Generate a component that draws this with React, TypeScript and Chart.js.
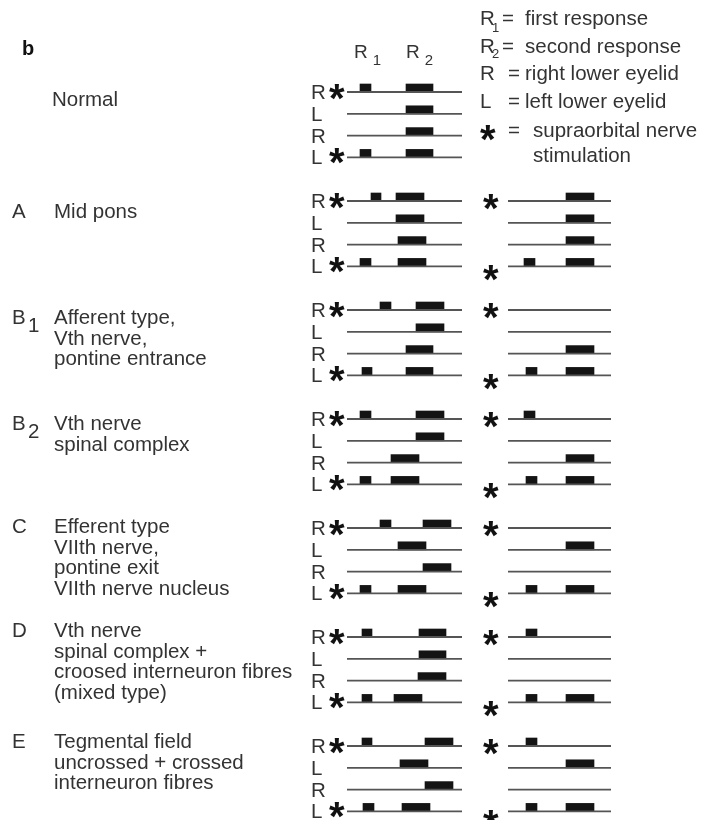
import React, { useEffect, useRef } from "react";
import { Chart, registerables } from "chart.js";

Chart.register(...registerables);

// ---------- data ----------
type Span = [number, number] | null;

const GROUP_LETTERS = ["", "A", "B", "B", "C", "D", "E"];
const GROUP_SUBSCRIPTS = ["", "", "1", "2", "", "", ""];
const GROUP_TITLES = [
  ["Normal"],
  ["Mid pons"],
  ["Afferent type,", "Vth nerve,", "pontine entrance"],
  ["Vth nerve", "spinal complex"],
  ["Efferent type", "VIIth nerve,", "pontine exit", "VIIth nerve nucleus"],
  ["Vth nerve", "spinal complex +", "croosed interneuron fibres", "(mixed type)"],
  ["Tegmental field", "uncrossed + crossed", "interneuron fibres"],
];
const ROW_LABELS = ["R", "L", "R", "L"];
const ROW_STIMULATED = [true, false, false, true];
const HAS_CONTRA_PANEL = [false, true, true, true, true, true, true];

// left panel (ipsilateral traces), times relative to trace start
const LEFT_R1: Span[][] = [
  [[13, 24], null, null, [13, 24]],
  [[24, 34], null, null, [13, 24]],
  [[33, 44], null, null, [15, 25]],
  [[13, 24], null, null, [13, 24]],
  [[33, 44], null, null, [13, 24]],
  [[15, 25], null, null, [15, 25]],
  [[15, 25], null, null, [16, 27]],
];
const LEFT_R2: Span[][] = [
  [[59, 86], [59, 86], [59, 86], [59, 86]],
  [[49, 77], [49, 77], [51, 79], [51, 79]],
  [[69, 97], [69, 97], [59, 86], [59, 86]],
  [[69, 97], [69, 97], [44, 72], [44, 72]],
  [[76, 104], [51, 79], [76, 104], [51, 79]],
  [[72, 99], [72, 99], [71, 99], [47, 75]],
  [[78, 106], [53, 81], [78, 106], [55, 83]],
];
// right panel (second set of traces)
const RIGHT_R1: Span[][] = [
  [null, null, null, null],
  [null, null, null, [16, 27]],
  [null, null, null, [18, 29]],
  [[16, 27], null, null, [18, 29]],
  [null, null, null, [18, 29]],
  [[18, 29], null, null, [18, 29]],
  [[18, 29], null, null, [18, 29]],
];
const RIGHT_R2: Span[][] = [
  [null, null, null, null],
  [[58, 86], [58, 86], [58, 86], [58, 86]],
  [null, null, [58, 86], [58, 86]],
  [null, null, [58, 86], [58, 86]],
  [null, [58, 86], null, [58, 86]],
  [null, null, null, [58, 86]],
  [null, [58, 86], null, [58, 86]],
];
const LEFT_TRACE_END = 115;
const RIGHT_TRACE_END = 103;

const HEADER_LABELS = [
  { main: "R", sub: "1", t: 7 },
  { main: "R", sub: "2", t: 59 },
];
const LEGEND_ITEMS = [
  { key: "R", sub: "1", text: "first response" },
  { key: "R", sub: "2", text: "second response" },
  { key: "R", sub: "", text: "right lower eyelid" },
  { key: "L", sub: "", text: "left lower eyelid" },
  { key: "*", sub: "", text: "supraorbital nerve" },
  { key: "", sub: "", text: "stimulation" },
];

// ---------- layout / style ----------
const W = 713;
const H = 820;
const ROWS_PER_GROUP = 5;
const ROW_PX = 21.8;
const FIRST_ROW_PX = 92;
const BAR_PX = 8;
const BAR_LIFT = BAR_PX / 2 / ROW_PX;
const TEXT_COLOR = "#333333";
const LINE_COLOR = "#555555";
const BAR_COLOR = "#141414";
const FONT_FAMILY = '"Liberation Sans", Arial, Helvetica, sans-serif';
const BODY_SIZE = 20.5;
const TITLE_BASELINES = [106, 218, 324, 430, 533, 637, 748];
const LEGEND_BASELINES = [25, 53, 80, 108, 137, 162];

const rowValue = (g: number, r: number) => g * ROWS_PER_GROUP + r;

function drawStar(ctx: CanvasRenderingContext2D, cx: number, cy: number) {
  ctx.font = `bold 40px ${FONT_FAMILY}`;
  const m = ctx.measureText("*");
  const w = m.actualBoundingBoxLeft + m.actualBoundingBoxRight;
  const h = m.actualBoundingBoxAscent + m.actualBoundingBoxDescent;
  ctx.fillText("*", cx - w / 2 + m.actualBoundingBoxLeft, cy - h / 2 + m.actualBoundingBoxAscent);
}

const textPlugin = {
  id: "diagramTexts",
  afterDatasetsDraw(chart: any) {
    const ctx: CanvasRenderingContext2D = chart.ctx;
    const xs = chart.scales.x;
    const x2 = chart.scales.x2;
    const ys = chart.scales.y;
    const f = (size: number, bold = false) => `${bold ? "bold " : ""}${size}px ${FONT_FAMILY}`;
    ctx.save();
    ctx.fillStyle = TEXT_COLOR;
    ctx.textAlign = "left";
    ctx.textBaseline = "alphabetic";

    // panel letter
    ctx.fillStyle = "#111";
    ctx.font = f(20, true);
    ctx.fillText("b", 22, 55);
    ctx.fillStyle = TEXT_COLOR;

    // header R1 / R2
    HEADER_LABELS.forEach((hl) => {
      const px = xs.getPixelForValue(hl.t);
      ctx.font = f(19);
      ctx.fillText(hl.main, px, 58);
      const w = ctx.measureText(hl.main).width;
      ctx.font = f(15);
      ctx.fillText(hl.sub, px + w + 5, 65);
    });

    // legend
    LEGEND_ITEMS.forEach((it, i) => {
      const b = LEGEND_BASELINES[i];
      if (it.key === "*") {
        ctx.fillStyle = "#111";
        drawStar(ctx, 488, b - 4);
        ctx.fillStyle = TEXT_COLOR;
        ctx.font = f(BODY_SIZE);
        ctx.fillText("=", 508, b);
        ctx.fillText(it.text, 533, b);
        return;
      }
      ctx.font = f(BODY_SIZE);
      if (it.key) {
        ctx.fillText(it.key, 480, b);
        if (it.sub) {
          ctx.font = f(13);
          ctx.fillText(it.sub, 492, b + (i === 0 ? 7 : 5));
          ctx.font = f(BODY_SIZE);
          ctx.fillText("=", 502, b);
        } else {
          ctx.fillText("=", 508, b);
        }
        ctx.fillText(it.text, 525, b);
      } else {
        ctx.fillText(it.text, 533, b);
      }
    });

    // group titles
    GROUP_TITLES.forEach((lines, g) => {
      const base = TITLE_BASELINES[g];
      ctx.font = f(BODY_SIZE);
      if (GROUP_LETTERS[g]) {
        ctx.fillText(GROUP_LETTERS[g], 12, base);
        if (GROUP_SUBSCRIPTS[g]) {
          ctx.fillText(GROUP_SUBSCRIPTS[g], 28, base + 8);
        }
      }
      lines.forEach((ln, k) => {
        ctx.fillText(ln, g === 0 ? 52 : 54, base + k * 20.6);
      });
    });

    // row labels and stimulation marks
    GROUP_TITLES.forEach((_, g) => {
      ROW_LABELS.forEach((lab, r) => {
        const py = ys.getPixelForValue(rowValue(g, r));
        ctx.fillStyle = TEXT_COLOR;
        ctx.font = f(BODY_SIZE);
        ctx.fillText(lab, xs.getPixelForValue(-36), py + 7);
        if (ROW_STIMULATED[r]) {
          ctx.fillStyle = "#111";
          drawStar(ctx, xs.getPixelForValue(-10), py + (r === 0 ? 0 : -1));
          if (HAS_CONTRA_PANEL[g]) {
            drawStar(ctx, x2.getPixelForValue(-17), py + (r === 0 ? 1 : 7));
          }
        }
      });
    });
    ctx.restore();
  },
};

export default function App() {
  const ref = useRef<HTMLCanvasElement>(null);

  useEffect(() => {
    const canvas = ref.current;
    if (!canvas) return;

    const datasets: any[] = [];
    // baselines
    GROUP_TITLES.forEach((_, g) => {
      ROW_LABELS.forEach((__, r) => {
        const v = rowValue(g, r);
        datasets.push({
          type: "line",
          xAxisID: "x",
          yAxisID: "y",
          data: [
            { x: 0, y: v },
            { x: LEFT_TRACE_END, y: v },
          ],
          borderColor: LINE_COLOR,
          borderWidth: 1.8,
          pointRadius: 0,
          fill: false,
        });
        if (HAS_CONTRA_PANEL[g]) {
          datasets.push({
            type: "line",
            xAxisID: "x2",
            yAxisID: "y",
            data: [
              { x: 0, y: v },
              { x: RIGHT_TRACE_END, y: v },
            ],
            borderColor: LINE_COLOR,
            borderWidth: 1.8,
            pointRadius: 0,
            fill: false,
          });
        }
      });
    });

    const collect = (a: Span[][], b: Span[][]) => {
      const out: any[] = [];
      [a, b].forEach((src) =>
        src.forEach((rows, g) =>
          rows.forEach((span, r) => {
            if (span) out.push({ x: [span[0], span[1]], y: rowValue(g, r) - BAR_LIFT });
          })
        )
      );
      return out;
    };

    datasets.push({
      type: "bar",
      xAxisID: "x",
      yAxisID: "y",
      stack: "resp",
      data: collect(LEFT_R1, LEFT_R2),
      backgroundColor: BAR_COLOR,
      borderWidth: 0,
      barThickness: BAR_PX,
    });
    datasets.push({
      type: "bar",
      xAxisID: "x2",
      yAxisID: "y",
      stack: "resp",
      data: collect(RIGHT_R1, RIGHT_R2),
      backgroundColor: BAR_COLOR,
      borderWidth: 0,
      barThickness: BAR_PX,
    });

    const yMin = -FIRST_ROW_PX / ROW_PX;
    const yMax = yMin + H / ROW_PX;

    const chart = new Chart(canvas, {
      type: "bar",
      data: { datasets },
      options: {
        animation: false,
        responsive: false,
        devicePixelRatio: 1,
        indexAxis: "y",
        events: [],
        layout: { padding: 0 },
        plugins: {
          legend: { display: false },
          tooltip: { enabled: false },
          title: { display: false },
        },
        scales: {
          x: { type: "linear", min: -347, max: W - 347, display: false, stacked: false, offset: false },
          x2: { type: "linear", min: -508, max: W - 508, display: false, stacked: false, offset: false },
          y: { type: "linear", min: yMin, max: yMax, reverse: true, display: false, offset: false },
        },
      } as any,
      plugins: [textPlugin as any],
    });
    return () => chart.destroy();
  }, []);

  return (
    <div style={{ position: "absolute", left: 0, top: 0, width: W, height: H, background: "#fff" }}>
      <canvas ref={ref} width={W} height={H} style={{ display: "block", width: W, height: H }} />
    </div>
  );
}
